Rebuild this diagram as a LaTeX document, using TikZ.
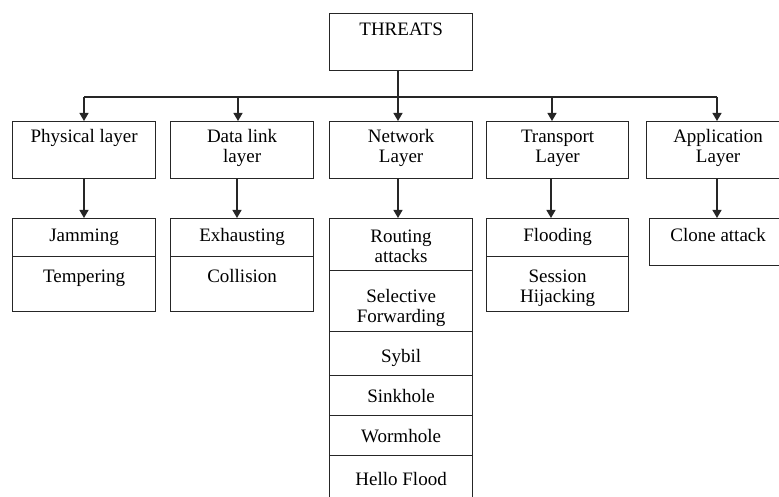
\documentclass[tikz,border=0pt]{standalone}
\usepackage{fontspec}
\setmainfont{Liberation Serif}
\usetikzlibrary{arrows.meta,calc}
\begin{document}
\begin{tikzpicture}[x=1pt,y=-1pt,
  box/.style={draw=black!85, line width=1.2pt, rectangle, inner sep=0pt, anchor=north west, minimum width=143pt},
  txt/.style={font=\fontsize{19}{20}\selectfont, align=center, anchor=base, inner sep=0pt, text=black},
  conn/.style={draw=black!85, line width=1.2pt},
  arr/.style={conn, -{Triangle[length=8pt,width=9pt]}}]
\useasboundingbox (0,0) rectangle (779,497);
\clip (0,0) rectangle (779,497);
% top
\node[box, minimum height=57pt] (threats) at (329,13) {};
\node[txt] (tthreats) at ($(threats.north)+(0,23)$) {THREATS};
% layers
\node[box, minimum height=57pt] (phys) at (12,121) {};
\node[box, minimum height=57pt] (dl)   at (170,121) {};
\node[box, minimum height=57pt] (net)  at (329,121) {};
\node[box, minimum height=57pt, minimum width=142pt] (tr) at (486,121) {};
\node[box, minimum height=57pt] (app)  at (646,121) {};
\node[txt] (tphys) at ($(phys.north)+(0,22)$) {Physical layer};
\node[txt] (tdl)   at ($(dl.north)+(0,42)$) {Data link\\layer};
\node[txt] (tnet)  at ($(net.north)+(0,42)$) {Network\\Layer};
\node[txt] (ttr)   at ($(tr.north)+(0,42)$) {Transport\\Layer};
\node[txt] (tapp)  at ($(app.north)+(0,42)$) {Application\\Layer};
% physical column
\node[box, minimum height=38pt] (jam)  at (12,218) {};
\node[box, minimum height=55pt] (temp) at (12,256) {};
\node[txt] (tjam)  at ($(jam.north)+(0,23)$) {Jamming};
\node[txt] (ttemp) at ($(temp.north)+(0,26)$) {Tempering};
% data link column
\node[box, minimum height=38pt] (exh) at (170,218) {};
\node[box, minimum height=55pt] (col) at (170,256) {};
\node[txt] (texh) at ($(exh.north)+(0,23)$) {Exhausting};
\node[txt] (tcol) at ($(col.north)+(0,26)$) {Collision};
% network column
\node[box, minimum height=52pt] (rout) at (329,218) {};
\node[box, minimum height=61pt] (sel)  at (329,270) {};
\node[box, minimum height=44pt] (syb)  at (329,331) {};
\node[box, minimum height=40pt] (sink) at (329,375) {};
\node[box, minimum height=40pt] (worm) at (329,415) {};
\node[box, minimum height=60pt] (hello) at (329,455) {};
\node[txt] (trout) at ($(rout.north)+(0,44)$) {Routing\\attacks};
\node[txt] (tsel)  at ($(sel.north)+(0,52)$) {Selective\\Forwarding};
\node[txt] (tsyb)  at ($(syb.north)+(0,31)$) {Sybil};
\node[txt] (tsink) at ($(sink.north)+(0,27)$) {Sinkhole};
\node[txt] (tworm) at ($(worm.north)+(0,27)$) {Wormhole};
\node[txt] (thello) at ($(hello.north)+(0,30)$) {Hello Flood};
% transport column
\node[box, minimum height=38pt, minimum width=142pt] (flood) at (486,218) {};
\node[box, minimum height=55pt, minimum width=142pt] (sess)  at (486,256) {};
\node[txt] (tflood) at ($(flood.north)+(0,23)$) {Flooding};
\node[txt] (tsess)  at ($(sess.north)+(0,46)$) {Session\\Hijacking};
% application column
\node[box, minimum height=47pt, minimum width=137pt] (clone) at (649,218) {};
\node[txt] (tclone) at ($(clone.north)+(0,23)$) {Clone attack};
% column x positions for connectors
\coordinate (cP) at (84,0);
\coordinate (cD) at (238,0);
\coordinate (cN) at (398,0);
\coordinate (cT) at (552,0);
\coordinate (cA) at (717,0);
\coordinate (bar) at (398,97);
% connectors
\draw[arr] (cN |- threats.south) -- (cN |- net.north);
\draw[conn] (cP |- bar) -- (cA |- bar);
\draw[arr] (cP |- bar) -- (cP |- phys.north);
\draw[arr] (cD |- bar) -- (cD |- dl.north);
\draw[arr] (cT |- bar) -- (cT |- tr.north);
\draw[arr] (cA |- bar) -- (cA |- app.north);
\draw[arr] (cP |- phys.south) -- (cP |- jam.north);
\draw[arr] ([xshift=-1pt]cD |- dl.south) -- ([xshift=-1pt]cD |- exh.north);
\draw[arr] (cN |- net.south) -- (cN |- rout.north);
\draw[arr] ([xshift=-1pt]cT |- tr.south) -- ([xshift=-1pt]cT |- flood.north);
\draw[arr] (cA |- app.south) -- (cA |- clone.north);
\end{tikzpicture}
\end{document}
